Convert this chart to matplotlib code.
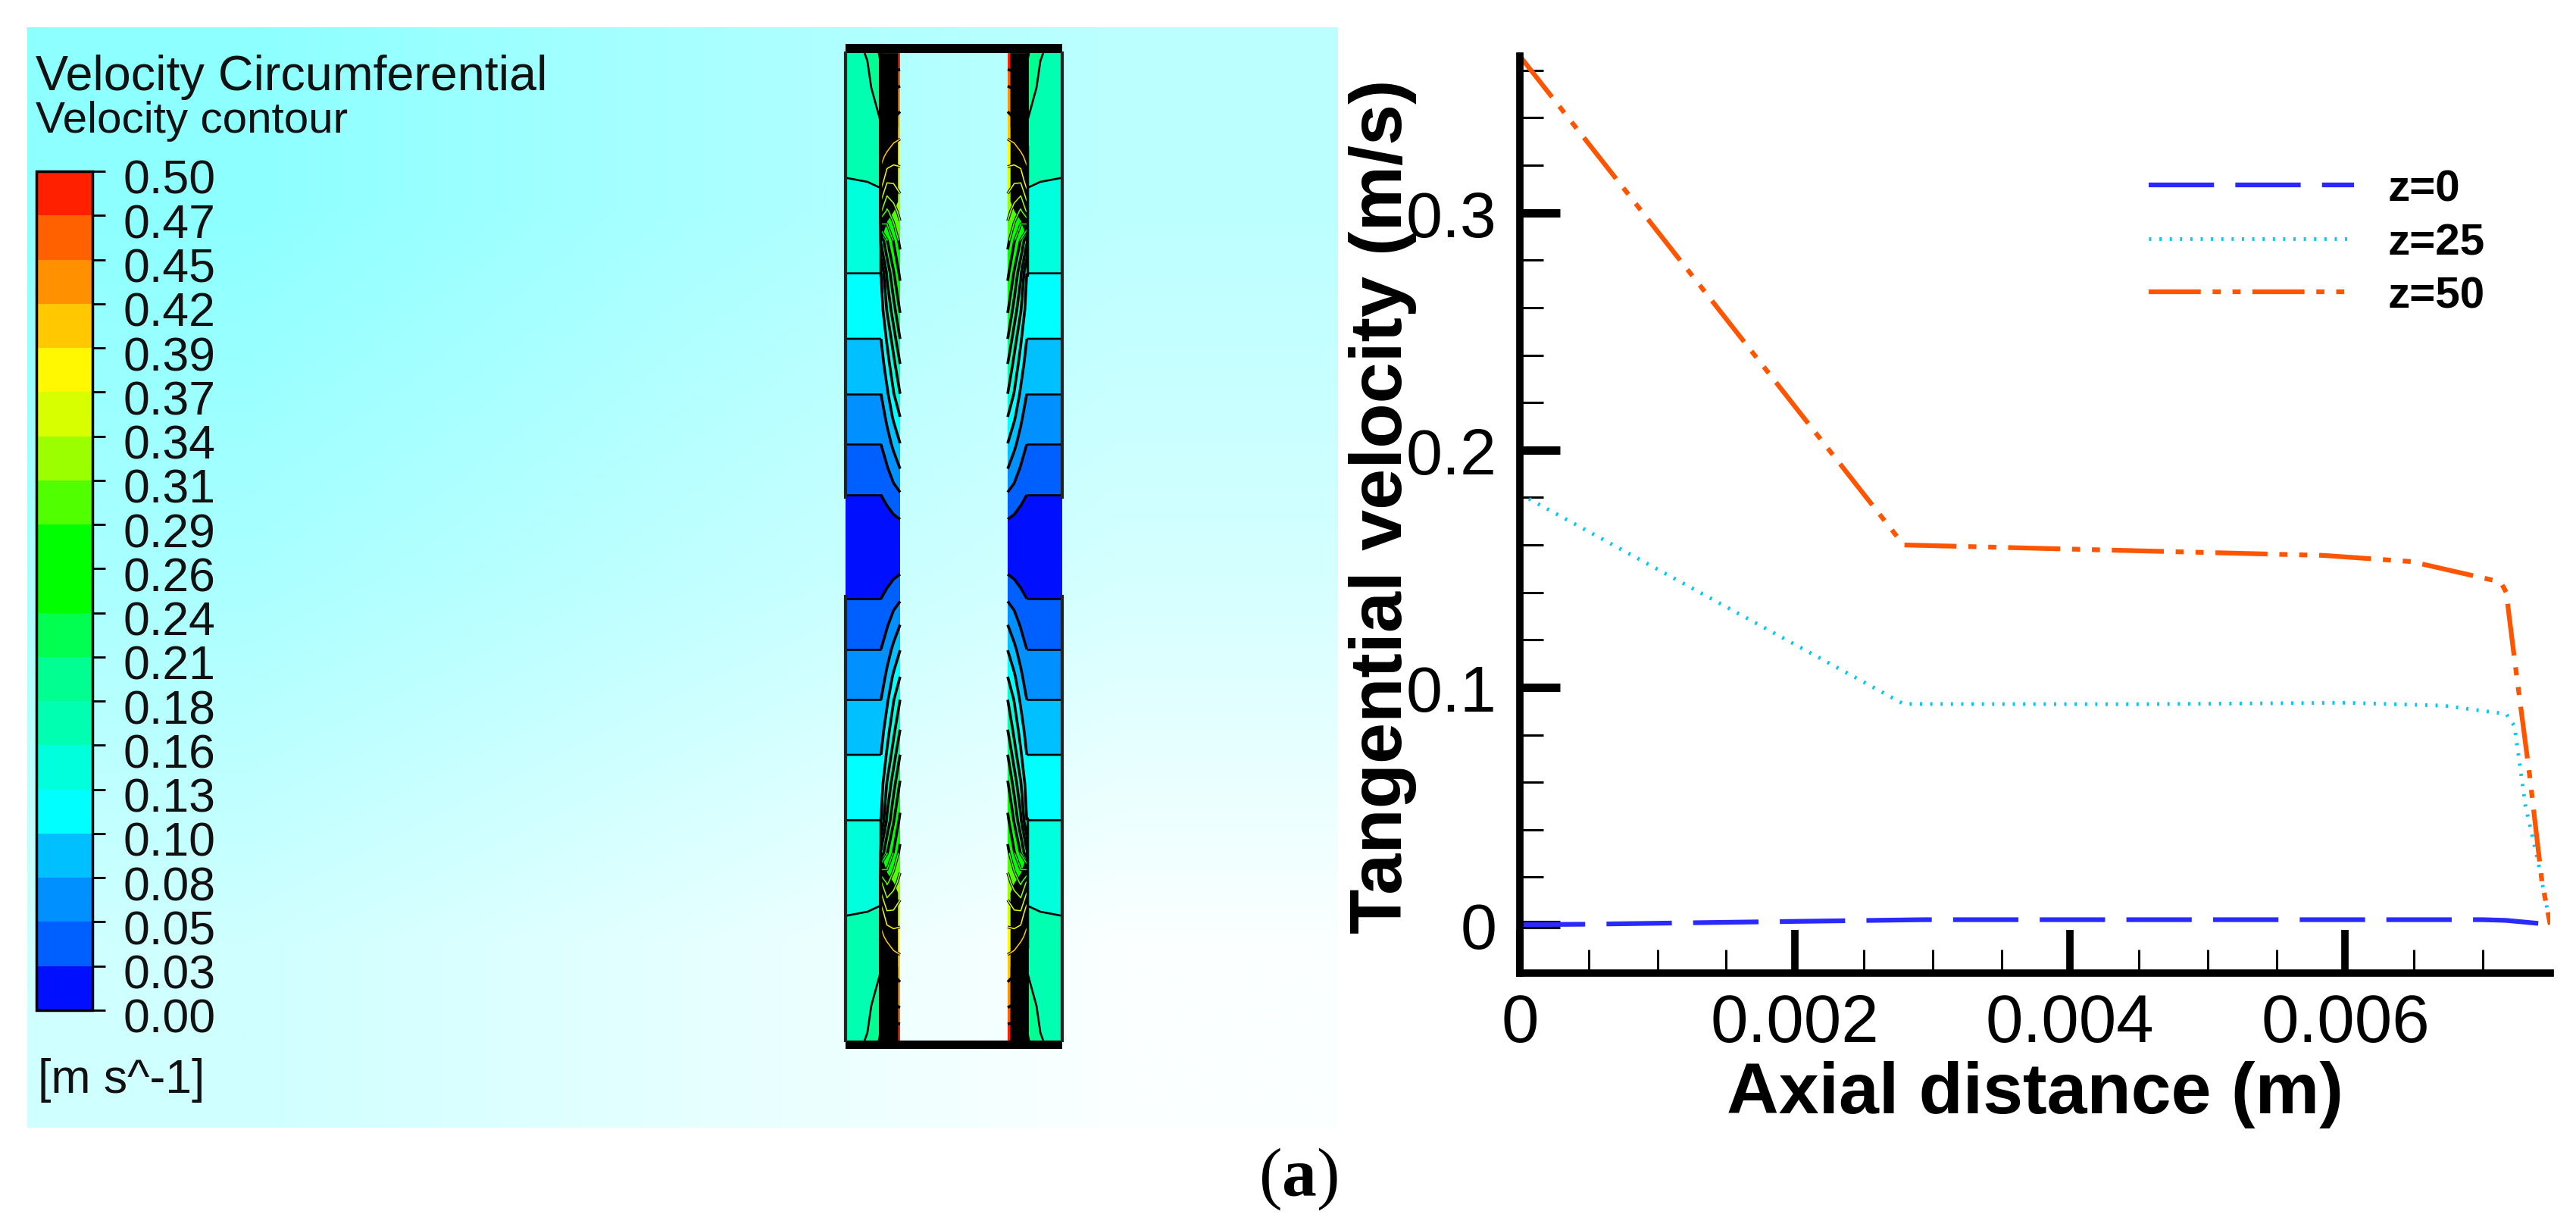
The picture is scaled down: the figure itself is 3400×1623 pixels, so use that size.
import numpy as np
import matplotlib
matplotlib.use("Agg")
import matplotlib.pyplot as plt
from matplotlib.colors import to_rgb
from matplotlib.ticker import MultipleLocator
from matplotlib.transforms import ScaledTranslation

plt.rcParams['font.family'] = ['Liberation Sans', 'DejaVu Sans']
plt.rcParams['mathtext.fontset'] = 'custom'
plt.rcParams['mathtext.rm'] = 'Liberation Serif'
plt.rcParams['mathtext.bf'] = 'Liberation Serif:bold'

# line chart
z0_x = [0, 0.0005, 0.0015, 0.00294, 0.0050, 0.0070, 0.00717, 0.00743, 0.00749]
z0_y = [0, 0.0002, 0.0010, 0.0021, 0.0021, 0.0021, 0.0018, 0.0004, 0]
z25_x = [0, 0.00279, 0.0045, 0.00601, 0.00671, 0.00717, 0.00723, 0.00731, 0.0074, 0.00749]
z25_y = [0.1815, 0.093, 0.0929, 0.0935, 0.0923, 0.0888, 0.0837, 0.05, 0.027, 0]
z50_x = [0, 0.00279, 0.00584, 0.00648, 0.00713, 0.00717, 0.00723, 0.00734, 0.00743, 0.00749]
z50_y = [0.366, 0.16, 0.1556, 0.153, 0.1444, 0.14, 0.112, 0.063, 0.018, 0]
x_ticks = [0, 0.002, 0.004, 0.006]
x_labels = ['0', '0.002', '0.004', '0.006']
y_ticks = [0, 0.1, 0.2, 0.3]
y_labels = ['0', '0.1', '0.2', '0.3']

# contour legend, bottom band first
cbar_labels = ['0.00', '0.03', '0.05', '0.08', '0.10', '0.13', '0.16', '0.18', '0.21', '0.24',
               '0.26', '0.29', '0.31', '0.34', '0.37', '0.39', '0.42', '0.45', '0.47', '0.50']
band_colors = ['#0010ff', '#0060ff', '#0090ff', '#00c0ff', '#00ffff', '#00ffdc', '#00ffb0',
               '#00ff90', '#00ff50', '#00ff00', '#00ff00', '#50ff00', '#9cff00', '#d8ff00',
               '#fff800', '#ffc800', '#ff9000', '#ff6000', '#ff2000']

# velocity in the gap: r = 0 at inner wall, r = 1 at outer wall, z = 0 mid height, z = 1 end
gap_r = [0, 0.12, 0.24, 0.35, 0.37, 0.6, 1.0]
gap_z = [0, 0.055, 0.104, 0.158, 0.209, 0.264, 0.31, 0.37, 0.42, 0.48, 0.556, 0.62, 0.68, 0.74,
         0.79, 0.865, 0.93, 1.0]
gap_v = [
    [0.000, 0.000, 0.000, 0.000, 0.000, 0.000, 0.000],
    [0.026, 0.022, 0.017, 0.013, 0.013, 0.013, 0.013],
    [0.049, 0.042, 0.033, 0.026, 0.026, 0.026, 0.026],
    [0.079, 0.065, 0.050, 0.039, 0.039, 0.039, 0.039],
    [0.105, 0.085, 0.068, 0.053, 0.053, 0.053, 0.053],
    [0.132, 0.110, 0.085, 0.066, 0.066, 0.066, 0.066],
    [0.158, 0.130, 0.100, 0.079, 0.079, 0.079, 0.079],
    [0.184, 0.150, 0.120, 0.092, 0.093, 0.093, 0.093],
    [0.210, 0.170, 0.135, 0.105, 0.105, 0.105, 0.105],
    [0.240, 0.200, 0.160, 0.118, 0.117, 0.117, 0.117],
    [0.270, 0.235, 0.190, 0.132, 0.132, 0.132, 0.132],
    [0.297, 0.265, 0.235, 0.190, 0.141, 0.141, 0.141],
    [0.325, 0.305, 0.285, 0.320, 0.150, 0.150, 0.150],
    [0.354, 0.345, 0.345, 0.385, 0.160, 0.158, 0.157],
    [0.378, 0.380, 0.390, 0.400, 0.168, 0.165, 0.163],
    [0.413, 0.420, 0.425, 0.430, 0.184, 0.172, 0.165],
    [0.445, 0.450, 0.455, 0.460, 0.198, 0.178, 0.170],
    [0.500, 0.500, 0.500, 0.500, 0.213, 0.186, 0.172],
]
# black part near the inner wall, lower edge
black_r = [0.045, 0.12, 0.24, 0.36]
black_z = [0.70, 0.68, 0.66, 0.62]
# upper edge of the part that still shows thin coloured arcs
solid_z = [0.85, 0.84, 0.83, 0.81]

bg_colors = [['#8dffff', '#a8ffff', '#bcffff'],
             ['#aaffff', '#c0ffff', '#d5ffff'],
             ['#cfffff', '#e5ffff', '#fbffff']]

W, H = 3400, 1624
fig = plt.figure(figsize=(W / 100, H / 100), dpi=100)

# left panel, in pixel coordinates of the figure
ax = fig.add_axes([0, 0, 1, 1])
ax.imshow([[to_rgb(c) for c in row] for row in bg_colors], extent=(36, 1766, 1489, 37),
          interpolation='bilinear', aspect='auto')
ax.set_xlim(0, W)
ax.set_ylim(H, 0)
ax.axis('off')

levels = np.linspace(0, 0.5, 20)
r = np.array(gap_r)
z = np.array(gap_z)
v = np.array(gap_v)
mid_y, half_y = 722.5, 651.5
walls = [(1188, -72), (1330, 72)]
upper = z >= 0.62
cs = None
for x0, w in walls:
    for sign in (-1, 1):
        gx = x0 + w * r
        gy = mid_y + sign * half_y * z
        cs = ax.contourf(gx, gy, v, levels=levels, colors=band_colors)
        ax.contour(gx[:4], gy, v[:, :4], levels=levels[1:-1], colors='k', linewidths=2.6)
        ax.contour(gx[3:], gy, v[:, 3:], levels=levels[1:-1], colors='k', linewidths=1.9)
        bx = x0 + w * np.array(black_r)
        ax.fill_between(bx, mid_y + sign * half_y * np.array(black_z), mid_y + sign * half_y,
                        color='k', lw=0)
        # thin arcs left inside the black part
        arcs = ax.contour(gx[:4], gy[upper], v[upper][:, :4], levels=levels[9:16],
                          colors=band_colors[9:16], linewidths=1.1)
        ax.fill_between(bx, mid_y + sign * half_y * np.array(solid_z), mid_y + sign * half_y,
                        color='k', lw=0)
        ax.plot([x0 + w * 0.36] * 2, [mid_y + sign * half_y * 0.55, mid_y + sign * half_y * 0.81],
                color='k', lw=2.5)
        ax.plot([x0 + w] * 2, [mid_y + sign * half_y * 0.1, mid_y + sign * half_y], color='#222222', lw=3)
for y0, y1 in [(59, 71), (1374, 1385)]:
    ax.fill_between([1116, 1402], y0, y1, color='k', lw=0)

cax = fig.add_axes([48 / W, 1 - 1334 / H, 74 / W, (1334 - 227) / H])
cb = fig.colorbar(cs, cax=cax, ticks=levels, spacing='uniform')
cb.outline.set_linewidth(2.5)
cb.ax.set_yticklabels(cbar_labels)
cb.ax.tick_params(axis='y', length=12, width=2, pad=17, labelsize=45, labelcolor='#111111')
cb.ax.minorticks_off()
for lab in cb.ax.get_yticklabels():
    lab.set_transform(lab.get_transform() + ScaledTranslation(0, -0.06, fig.dpi_scale_trans))

ax.text(47, 119, 'Velocity Circumferential', fontsize=46.5, color='#111111', va='baseline')
ax.text(47, 175, 'Velocity contour', fontsize=42, color='#111111', va='baseline')
ax.text(50, 1442, '[m s^-1]', fontsize=45, color='#111111', va='baseline')

# right panel
ax2 = fig.add_axes([2006 / W, 1 - 1285 / H, (3366 - 2006) / W, (1285 - 75) / H])
ax2.set_xlim(0, 0.00749)
ax2.set_ylim(-0.0204, 0.366)
l0, = ax2.plot(z0_x, z0_y, color='#2a2aff', lw=4.5, dashes=(13.8, 4.5), dash_capstyle='butt', label='z=0')
l25, = ax2.plot(z25_x, z25_y, color='#00c8f8', lw=3.5, dashes=(0.6, 2.2), dash_capstyle='butt', label='z=25')
l50, = ax2.plot(z50_x, z50_y, color='#ff5500', lw=4.5, dashes=(11, 2.5, 1.7, 2.5, 1.7, 2.5),
                dash_capstyle='butt', label='z=50')
ax2.spines['top'].set_visible(False)
ax2.spines['right'].set_visible(False)
ax2.spines['left'].set_linewidth(7)
ax2.spines['bottom'].set_linewidth(7)
ax2.set_xticks(x_ticks)
ax2.set_xticklabels(x_labels)
ax2.set_yticks(y_ticks)
ax2.set_yticklabels(y_labels)
ax2.xaxis.set_minor_locator(MultipleLocator(0.0005))
ax2.yaxis.set_minor_locator(MultipleLocator(0.02))
ax2.tick_params(which='major', axis='x', direction='in', length=41, width=7, labelsize=64, pad=18)
ax2.tick_params(which='major', axis='y', direction='in', length=38, width=8, labelsize=62, pad=22)
ax2.tick_params(which='minor', direction='in', length=22, width=2.2)
ax2.set_xlabel('Axial distance (m)', fontsize=68.5, fontweight='bold')
ax2.xaxis.set_label_coords(0.5, -0.095)
ax2.set_ylabel('Tangential velocity (m/s)', fontsize=70, fontweight='bold')
ax2.yaxis.set_label_coords(-0.10, 0.51)
leg = ax2.legend(handles=[l0, l25, l50], frameon=False, loc='upper left', bbox_to_anchor=(0.61, 0.877),
                 prop={'family': ['Liberation Sans Narrow', 'Liberation Sans'], 'weight': 'bold', 'size': 42},
                 handlelength=4.65, handletextpad=0.77, labelspacing=0.28, borderpad=0, borderaxespad=0)

fig.text(1713 / W, 1 - 1556 / H, r'$\mathrm{(}\mathbf{a}\mathrm{)}$', fontsize=66, ha='center', va='center')

fig.savefig('out.png', dpi=100)
